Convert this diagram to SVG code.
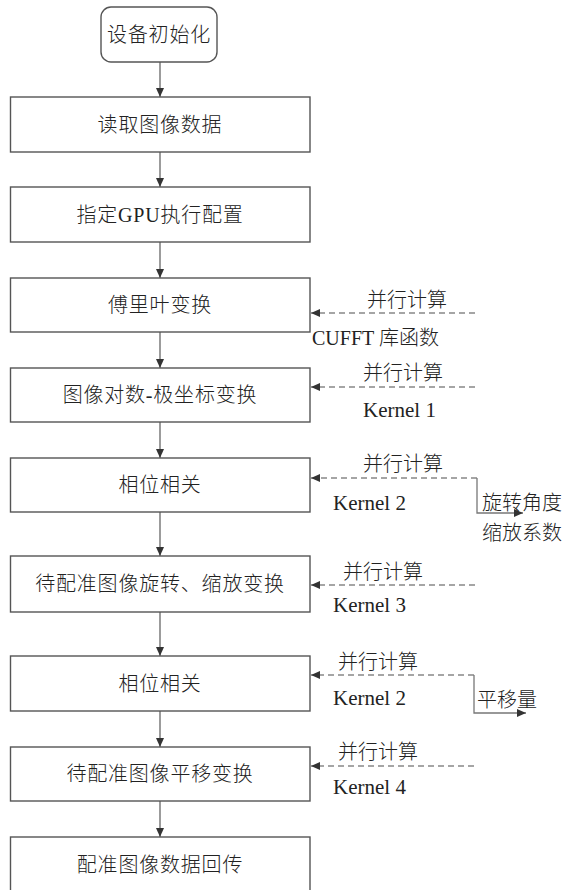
<svg xmlns="http://www.w3.org/2000/svg" width="565" height="890" viewBox="0 0 565 890">
<style>
.box{fill:#fff;stroke:#555;stroke-width:1.4}
.t{font-family:"Liberation Serif","Noto Sans CJK SC",serif;font-size:20px;fill:#222;font-weight:300}
.c{text-anchor:middle;letter-spacing:0.8px}
.k{font-size:21px;font-weight:400}
.flow{stroke:#666;stroke-width:1.3;fill:none}
.dash{stroke:#888;stroke-width:1.3;stroke-dasharray:6,4;fill:none}
.out{stroke:#777;stroke-width:1.3;fill:none}
</style>
<defs>
<marker id="ah" markerUnits="userSpaceOnUse" markerWidth="9" markerHeight="8" refX="9" refY="4" orient="auto">
<path d="M0,0 L9,4 L0,8 z" fill="#333"/>
</marker>
</defs>
<rect width="565" height="890" fill="#fff"/>
<g id="connectors">
<line class="flow" x1="160" y1="62" x2="160" y2="97" marker-end="url(#ah)"/>
<line class="flow" x1="160" y1="152" x2="160" y2="187" marker-end="url(#ah)"/>
<line class="flow" x1="160" y1="242" x2="160" y2="278" marker-end="url(#ah)"/>
<line class="flow" x1="160" y1="332" x2="160" y2="368" marker-end="url(#ah)"/>
<line class="flow" x1="160" y1="422" x2="160" y2="458" marker-end="url(#ah)"/>
<line class="flow" x1="160" y1="512" x2="160" y2="556" marker-end="url(#ah)"/>
<line class="flow" x1="160" y1="612" x2="160" y2="656" marker-end="url(#ah)"/>
<line class="flow" x1="160" y1="711" x2="160" y2="747" marker-end="url(#ah)"/>
<line class="flow" x1="160" y1="801" x2="160" y2="837" marker-end="url(#ah)"/>
<line class="dash" x1="475" y1="313" x2="311" y2="313" marker-end="url(#ah)"/>
<line class="dash" x1="475" y1="387" x2="311" y2="387" marker-end="url(#ah)"/>
<line class="dash" x1="477" y1="478" x2="311" y2="478" marker-end="url(#ah)"/>
<polyline class="out" points="477,478 477,513 523,513" marker-end="url(#ah)"/>
<line class="dash" x1="475" y1="585" x2="311" y2="585" marker-end="url(#ah)"/>
<line class="dash" x1="474" y1="675" x2="311" y2="675" marker-end="url(#ah)"/>
<polyline class="out" points="474,675 474,713 526,713" marker-end="url(#ah)"/>
<line class="dash" x1="474" y1="766" x2="311" y2="766" marker-end="url(#ah)"/>
</g>
<g id="n0"><rect class="box" x="101" y="7" width="116" height="55" rx="10"/><text class="t c" x="159" y="42">设备初始化</text></g>
<g id="n1"><rect class="box" x="10.5" y="97" width="299.5" height="55"/><text class="t c" x="160" y="132">读取图像数据</text></g>
<g id="n2"><rect class="box" x="10.5" y="187" width="299.5" height="55"/><text class="t c" x="160" y="222">指定GPU执行配置</text></g>
<g id="n3"><rect class="box" x="10.5" y="278" width="299.5" height="54"/><text class="t c" x="160" y="312">傅里叶变换</text></g>
<g id="n4"><rect class="box" x="10.5" y="368" width="299.5" height="54"/><text class="t c" x="160" y="402">图像对数-极坐标变换</text></g>
<g id="n5"><rect class="box" x="10.5" y="458" width="299.5" height="54"/><text class="t c" x="160" y="492">相位相关</text></g>
<g id="n6"><rect class="box" x="10.5" y="556" width="299.5" height="56"/><text class="t c" x="160" y="591">待配准图像旋转、缩放变换</text></g>
<g id="n7"><rect class="box" x="10.5" y="656" width="299.5" height="55"/><text class="t c" x="160" y="691">相位相关</text></g>
<g id="n8"><rect class="box" x="10.5" y="747" width="299.5" height="54"/><text class="t c" x="160" y="781">待配准图像平移变换</text></g>
<g id="n9"><rect class="box" x="10.5" y="837" width="299.5" height="60"/><text class="t c" x="160" y="872">配准图像数据回传</text></g>
<g id="labels">
<text class="t" x="367" y="307">并行计算</text>
<text class="t" x="312" y="345">CUFFT 库函数</text>
<text class="t" x="363" y="380">并行计算</text>
<text class="t k" x="363" y="417">Kernel 1</text>
<text class="t" x="363" y="471">并行计算</text>
<text class="t k" x="333" y="510">Kernel 2</text>
<text class="t" x="482" y="510">旋转角度</text>
<text class="t" x="482" y="540">缩放系数</text>
<text class="t" x="343" y="579">并行计算</text>
<text class="t k" x="333" y="612">Kernel 3</text>
<text class="t" x="338" y="669">并行计算</text>
<text class="t k" x="333" y="705">Kernel 2</text>
<text class="t" x="477" y="707">平移量</text>
<text class="t" x="338" y="759">并行计算</text>
<text class="t k" x="333" y="794">Kernel 4</text>
</g>
</svg>
